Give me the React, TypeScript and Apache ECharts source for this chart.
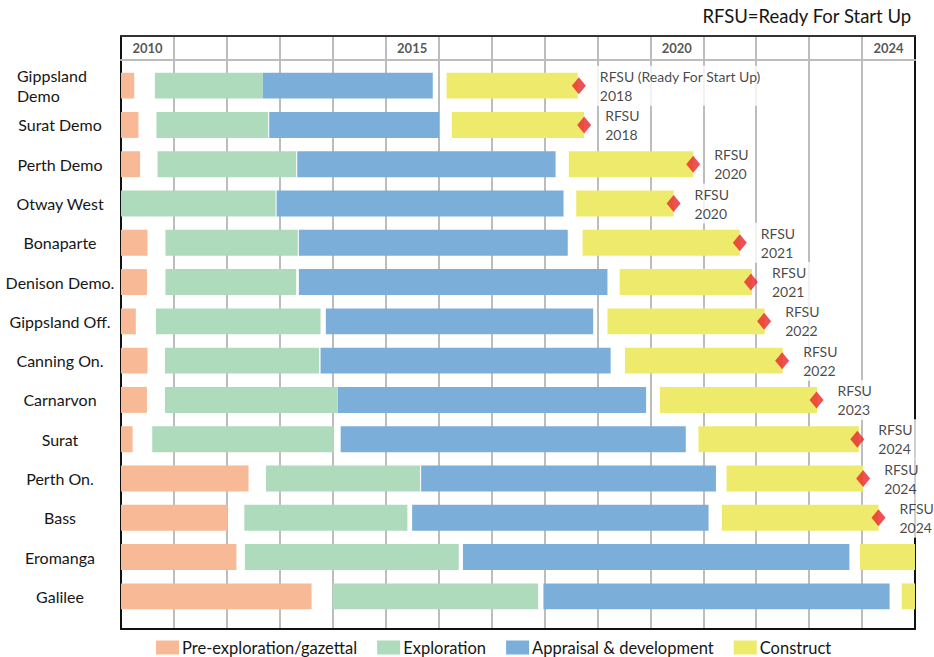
import React, { useEffect, useRef } from 'react';
import * as echarts from 'echarts';

type Span = [number, number] | null;

const projects = [
  'Gippsland\nDemo',
  'Surat Demo',
  'Perth Demo',
  'Otway West',
  'Bonaparte',
  'Denison Demo.',
  'Gippsland Off.',
  'Canning On.',
  'Carnarvon',
  'Surat',
  'Perth On.',
  'Bass',
  'Eromanga',
  'Galilee',
];

const preExploration: Span[] = [
  [2010, 2010.25],
  [2010, 2010.33],
  [2010, 2010.36],
  null,
  [2010, 2010.5],
  [2010, 2010.49],
  [2010, 2010.28],
  [2010, 2010.5],
  [2010, 2010.49],
  [2010, 2010.22],
  [2010, 2012.41],
  [2010, 2012.01],
  [2010, 2012.18],
  [2010, 2013.6],
];

const exploration: Span[] = [
  [2010.64, 2012.68],
  [2010.67, 2012.78],
  [2010.69, 2013.31],
  [2010, 2012.92],
  [2010.84, 2013.34],
  [2010.84, 2013.31],
  [2010.66, 2013.77],
  [2010.83, 2013.74],
  [2010.83, 2014.08],
  [2010.59, 2014.02],
  [2012.74, 2015.65],
  [2012.33, 2015.41],
  [2012.34, 2016.38],
  [2014.0, 2017.88],
];

const appraisal: Span[] = [
  [2012.68, 2015.89],
  [2012.8, 2016.01],
  [2013.33, 2018.21],
  [2012.94, 2018.36],
  [2013.36, 2018.44],
  [2013.36, 2019.19],
  [2013.87, 2018.92],
  [2013.77, 2019.25],
  [2014.09, 2019.92],
  [2014.15, 2020.67],
  [2015.67, 2021.24],
  [2015.5, 2021.1],
  [2016.46, 2023.76],
  [2017.98, 2024.52],
];

const construct: Span[] = [
  [2016.15, 2018.63],
  [2016.25, 2018.75],
  [2018.46, 2020.81],
  [2018.6, 2020.44],
  [2018.72, 2021.69],
  [2019.42, 2021.92],
  [2019.19, 2022.16],
  [2019.52, 2022.5],
  [2020.18, 2023.15],
  [2020.91, 2023.94],
  [2021.44, 2024.02],
  [2021.35, 2024.31],
  [2023.96, 2025.5],
  [2024.75, 2025.5],
];

const rfsuAt: (number | null)[] = [
  2018.65, 2018.75, 2020.81, 2020.44, 2021.69, 2021.9, 2022.15, 2022.49, 2023.14, 2023.91, 2024.02,
  2024.31, null, null,
];
const rfsuCaption: (string | null)[] = [
  'RFSU (Ready For Start Up)',
  'RFSU',
  'RFSU',
  'RFSU',
  'RFSU',
  'RFSU',
  'RFSU',
  'RFSU',
  'RFSU',
  'RFSU',
  'RFSU',
  'RFSU',
  null,
  null,
];
const rfsuYear: (string | null)[] = [
  '2018', '2018', '2020', '2020', '2021', '2021', '2022', '2022', '2023', '2024', '2024', '2024', null, null,
];

const headerYears = ['2010', '2015', '2020', '2024'];
const phaseNames = ['Pre-exploration/gazettal', 'Exploration', 'Appraisal & development', 'Construct'];

const FONT = 'Lato, "Open Sans", sans-serif';
const TEXT = '#161616';
const GRIDLINE = '#BDBDBD';
const BORDER = '#111111';
const X_MIN = 2010;
const X_MAX = 2025;

export default function App() {
  const ref = useRef<HTMLDivElement>(null);

  useEffect(() => {
    if (!ref.current) return;
    const chart = echarts.init(ref.current, null, { renderer: 'svg' });

    const phases = [
      { name: phaseNames[0], color: '#F8BA96', spans: preExploration },
      { name: phaseNames[1], color: '#ADDBBC', spans: exploration },
      { name: phaseNames[2], color: '#7BAFD9', spans: appraisal },
      { name: phaseNames[3], color: '#EEEB6C', spans: construct },
    ];

    const barSeries = phases.map((ph) => ({
      type: 'custom',
      name: ph.name,
      xAxisIndex: 3,
      yAxisIndex: 4,
      itemStyle: { color: ph.color },
      encode: { x: [1, 2], y: 0 },
      data: ph.spans
        .map((s, i) => (s ? [i, s[0], s[1]] : null))
        .filter((d) => d !== null),
      renderItem: (params: any, api: any) => {
        const row = api.value(0);
        const start = api.coord([api.value(1), row]);
        const end = api.coord([api.value(2), row]);
        const h = api.size([0, 1])[1] * 0.66;
        const cs = params.coordSys;
        const shape = echarts.graphic.clipRectByRect(
          { x: start[0], y: start[1] - h / 2, width: end[0] - start[0], height: h },
          { x: cs.x, y: cs.y, width: cs.width, height: cs.height }
        );
        return shape ? { type: 'rect', shape, style: { fill: ph.color } } : null;
      },
    }));

    const diamondData = rfsuAt
      .map((x, i) => (x !== null ? [x, i, rfsuCaption[i], rfsuYear[i]] : null))
      .filter((d) => d !== null);

    const option: any = {
      animation: false,
      backgroundColor: '#ffffff',
      title: {
        text: 'RFSU=Ready For Start Up',
        right: 22,
        top: 6,
        padding: 0,
        textStyle: { fontFamily: FONT, fontSize: 18.5, fontWeight: 'normal', color: TEXT },
      },
      legend: {
        data: phaseNames,
        left: 156,
        top: 639,
        icon: 'rect',
        itemWidth: 23,
        itemHeight: 14,
        itemGap: 20,
        padding: 0,
        textStyle: {
          fontFamily: FONT,
          fontSize: 16.5,
          lineHeight: 16,
          color: TEXT,
          padding: [0, 0, 0, -2],
        },
      },
      grid: [
        { left: 121, right: 19, top: 36, height: 24 },
        { left: 121, right: 19, top: 60, bottom: 28 },
        { left: 121, right: 19, top: 66, bottom: 41 },
      ],
      xAxis: [
        {
          gridIndex: 0,
          type: 'value',
          position: 'top',
          min: X_MIN,
          max: X_MAX,
          interval: 1,
          axisLine: { show: true, onZero: false, lineStyle: { color: '#333', width: 2 } },
          axisTick: { show: false },
          axisLabel: { show: false },
          splitLine: { show: true, lineStyle: { color: GRIDLINE, width: 2 } },
        },
        {
          gridIndex: 0,
          type: 'value',
          position: 'bottom',
          min: X_MIN,
          max: X_MAX,
          interval: 1,
          axisLine: { show: true, onZero: false, lineStyle: { color: GRIDLINE, width: 2 } },
          axisTick: { show: false },
          axisLabel: { show: false },
          splitLine: { show: false },
        },
        {
          gridIndex: 1,
          type: 'value',
          position: 'bottom',
          min: X_MIN,
          max: X_MAX,
          interval: 1,
          axisLine: { show: true, onZero: false, lineStyle: { color: BORDER, width: 2 } },
          axisTick: { show: false },
          axisLabel: { show: false },
          splitLine: { show: true, lineStyle: { color: GRIDLINE, width: 2 } },
        },
        {
          gridIndex: 2,
          type: 'value',
          min: X_MIN,
          max: X_MAX,
          show: false,
        },
      ],
      yAxis: [
        {
          gridIndex: 0,
          type: 'value',
          min: 0,
          max: 1,
          position: 'left',
          axisLine: { show: true, onZero: false, lineStyle: { color: BORDER, width: 2 } },
          axisTick: { show: false },
          axisLabel: { show: false },
          splitLine: { show: false },
        },
        {
          gridIndex: 0,
          type: 'value',
          min: 0,
          max: 1,
          position: 'right',
          axisLine: { show: true, onZero: false, lineStyle: { color: BORDER, width: 2 } },
          axisTick: { show: false },
          axisLabel: { show: false },
          splitLine: { show: false },
        },
        {
          gridIndex: 1,
          type: 'value',
          min: 0,
          max: 1,
          position: 'left',
          axisLine: { show: true, onZero: false, lineStyle: { color: BORDER, width: 2 } },
          axisTick: { show: false },
          axisLabel: { show: false },
          splitLine: { show: false },
        },
        {
          gridIndex: 1,
          type: 'value',
          min: 0,
          max: 1,
          position: 'right',
          axisLine: { show: true, onZero: false, lineStyle: { color: BORDER, width: 2 } },
          axisTick: { show: false },
          axisLabel: { show: false },
          splitLine: { show: false },
        },
        {
          gridIndex: 2,
          type: 'category',
          inverse: true,
          data: projects,
          axisLine: { show: false },
          axisTick: { show: false },
          splitLine: { show: false },
          axisLabel: {
            align: 'center',
            margin: 61,
            fontFamily: FONT,
            fontSize: 16,
            color: TEXT,
            lineHeight: 20,
            formatter: (v: string) =>
              v.includes('\n')
                ? v
                    .split('\n')
                    .map((p) => `{l|${p}}`)
                    .join('\n')
                : v,
            rich: {
              l: { width: 86, align: 'left', fontFamily: FONT, fontSize: 16, color: TEXT, lineHeight: 20 },
            },
          },
        },
      ],
      series: [
        ...barSeries,
        {
          type: 'scatter',
          name: 'RFSU',
          xAxisIndex: 3,
          yAxisIndex: 4,
          symbol: 'diamond',
          symbolSize: [14, 17],
          itemStyle: { color: '#E8262C' },
          clip: false,
          z: 5,
          data: diamondData,
          label: {
            show: true,
            position: 'right',
            distance: 8,
            align: 'left',
            fontFamily: FONT,
            fontSize: 14,
            lineHeight: 19,
            color: TEXT,
            backgroundColor: '#ffffff',
            padding: [1, 6, 1, 6],
            formatter: (p: any) => `${p.data[2]}\n${p.data[3]}`,
          },
        },
        {
          type: 'scatter',
          name: 'header',
          xAxisIndex: 0,
          yAxisIndex: 0,
          symbolSize: 1,
          itemStyle: { color: 'rgba(0,0,0,0)' },
          clip: false,
          silent: true,
          data: headerYears.map((y) => [Number(y) + 0.5, 0.5, y]),
          label: {
            show: true,
            position: 'inside',
            fontFamily: FONT,
            fontSize: 13,
            fontWeight: 'bold',
            color: '#2a2a2a',
            formatter: (p: any) => p.data[2],
          },
        },
      ],
    };

    chart.setOption(option);
    return () => chart.dispose();
  }, []);

  return (
    <div
      ref={ref}
      style={{ position: 'absolute', left: 0, top: 0, width: 934, height: 657, background: '#fff' }}
    />
  );
}
